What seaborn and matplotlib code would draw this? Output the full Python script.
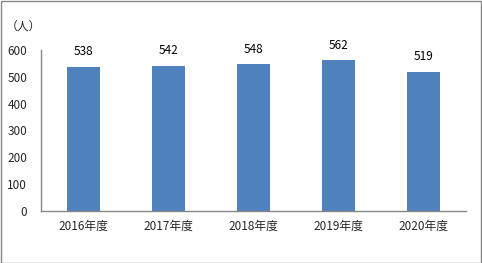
import matplotlib
matplotlib.use("Agg")
import matplotlib.pyplot as plt
import seaborn as sns
import pandas as pd
from matplotlib.patches import Rectangle

categories = ["2016年度", "2017年度", "2018年度", "2019年度", "2020年度"]
values = [538, 542, 548, 562, 519]
yticks = [0, 100, 200, 300, 400, 500, 600]

sns.set_style("white")
plt.rcParams['font.family'] = ['Noto Sans CJK JP', 'DejaVu Sans']

df = pd.DataFrame({"year": categories, "value": values})

W, H = 482, 263
fig = plt.figure(figsize=(W / 100, H / 100), dpi=100)
ax = fig.add_axes([41 / W, 1 - 211 / H, (466 - 41) / W, (211 - 50) / H])

sns.barplot(data=df, x="year", y="value", color="#4F81BD", saturation=1,
            width=0.38, linewidth=0, ax=ax)

for i, v in enumerate(values):
    ax.annotate(str(v), (i, v), xytext=(0, 6), textcoords="offset points",
                ha="center", va="bottom", fontsize=8.5, color="#000000")

ax.set_ylim(0, 600)
ax.set_xlim(-0.5, 4.5)
ax.set_yticks(yticks)
ax.set_yticklabels([str(t) for t in yticks], fontsize=8.5)
ax.tick_params(axis="x", labelsize=8.5, length=0, pad=6)
ax.tick_params(axis="y", length=0, pad=10)
ax.set_xlabel("")
ax.set_ylabel("")
for s in ["top", "right"]:
    ax.spines[s].set_visible(False)
for s in ["left", "bottom"]:
    ax.spines[s].set_color("#868686")
    ax.spines[s].set_linewidth(1)

fig.text(6 / W, 1 - 26 / H, "（人）", fontsize=8.5, va="center", ha="left")

fig.patches.append(Rectangle((0.5 / W, 0.5 / H), 1 - 1.5 / W, 1 - 1.5 / H,
                             transform=fig.transFigure, fill=False,
                             edgecolor="#868686", linewidth=1))

fig.savefig("out.png", dpi=100)
